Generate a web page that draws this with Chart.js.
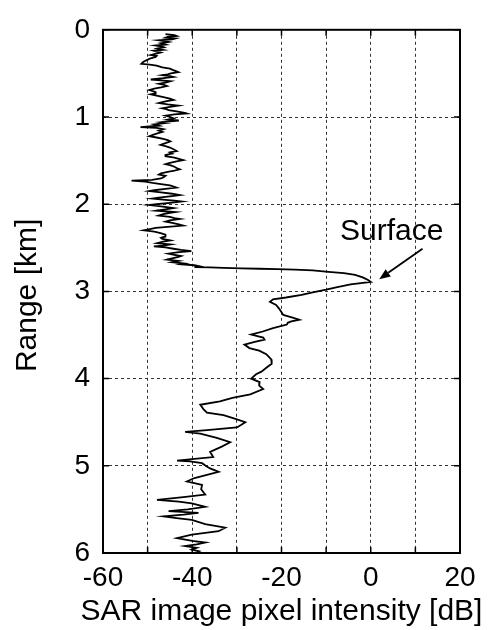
<!DOCTYPE html>
<html>
<head>
<meta charset="utf-8">
<script src="https://cdn.jsdelivr.net/npm/chart.js@4/dist/chart.umd.min.js"></script>
<style>
  html, body { margin: 0; padding: 0; background: #ffffff; }
  #wrap { width: 492px; height: 630px; }
</style>
</head>
<body>
<div id="wrap"><canvas id="c" width="492" height="630"></canvas></div>
<script>
// ---- Data ----
const rangeKm = [
  0.05,0.06,0.07,0.08,0.09,0.10,0.11,0.12,0.13,0.14,0.155,0.17,0.18,0.19,0.20,0.215,0.23,0.24,0.25,0.26,
  0.275,0.29,0.30,0.31,0.33,0.35,0.37,0.39,0.40,0.41,0.43,0.445,0.46,0.47,0.485,0.50,0.51,0.52,0.53,0.54,
  0.555,0.57,0.58,0.59,0.605,0.62,0.63,0.645,0.66,0.675,0.69,0.70,0.715,0.73,0.74,0.75,0.77,0.79,0.805,0.82,
  0.84,0.855,0.87,0.885,0.90,0.91,0.92,0.935,0.95,0.96,0.97,0.985,1.00,1.015,
  1.03,1.04,1.05,1.06,1.07,1.085,1.10,1.115,1.125,1.14,1.155,1.17,1.19,1.205,1.22,1.235,1.25,1.265,1.28,1.30,
  1.32,1.335,1.35,1.37,1.39,1.405,1.42,1.435,1.45,1.465,1.48,1.495,1.51,1.525,1.54,1.555,1.57,1.585,1.60,1.615,
  1.63,1.645,1.66,1.675,1.69,1.705,1.72,1.73,1.74,1.755,1.77,1.785,1.80,1.81,1.825,1.84,1.85,1.865,1.88,1.895,
  1.91,1.925,1.935,1.95,1.96,1.97,1.985,2.00,2.01,2.025,2.045,
  2.06,2.075,2.09,2.10,2.115,2.13,2.145,2.16,2.17,2.185,2.20,2.215,2.23,2.245,2.26,2.272,2.285,2.30,2.315,2.333,
  2.35,2.37,2.385,2.397,2.416,2.43,2.446,2.462,2.475,2.484,2.495,2.511,2.525,2.537,2.55,2.567,2.58,2.595,2.605,2.62,
  2.636,2.651,2.665,2.681,2.69,2.70,2.712,
  2.72,2.725,2.73,2.735,2.74,2.745,2.75,2.76,2.775,2.79,2.81,2.84,2.87,2.89,
  2.92,2.95,2.98,3.01,3.04,3.07,3.09,3.12,3.155,3.20,3.27,3.30,3.325,3.345,3.36,3.38,3.42,3.46,3.495,3.53,
  3.553,3.58,3.61,3.65,3.68,3.72,3.78,3.83,3.875,3.92,3.95,4.00,4.04,4.08,4.12,4.18,4.22,4.26,4.30,4.35,
  4.39,4.42,4.46,4.50,4.53,4.56,4.59,4.61,4.63,4.68,4.73,4.78,4.84,4.90,4.92,4.94,4.95,4.97,5.00,5.03,
  5.07,5.10,5.14,5.18,5.22,5.27,5.33,5.36,5.39,5.41,5.43,5.47,5.50,5.52,5.54,5.56,5.58,5.60,5.62,5.67,
  5.71,5.75,5.79,5.83,5.86,5.88,5.90,5.92,5.94,5.96,5.98,6.00
];
const intensityDb = [
  -46.0,-44.0,-43.5,-45.5,-46.0,-43.8,-44.5,-47.5,-46.2,-45.3,-47.0,-46.0,-48.2,-47.0,-46.4,-47.8,-46.5,-48.6,-47.9,-47.1,
  -48.3,-49.3,-48.0,-48.2,-49.5,-50.3,-51.0,-51.4,-49.5,-48.0,-46.7,-45.0,-44.4,-43.8,-43.1,-44.8,-45.5,-46.7,-45.0,-44.2,
  -46.5,-49.3,-47.0,-44.9,-46.0,-47.5,-46.5,-45.7,-47.0,-48.5,-49.6,-49.0,-48.2,-48.2,-49.3,-48.5,-46.7,-45.0,-44.2,-46.0,
  -47.5,-45.5,-43.1,-45.0,-46.7,-45.8,-45.3,-43.5,-42.0,-41.3,-44.0,-46.0,-44.9,-44.2,
  -45.5,-43.0,-44.9,-47.0,-46.0,-48.5,-47.5,-51.6,-48.0,-46.5,-47.5,-46.7,-48.0,-48.8,-49.6,-48.0,-46.5,-45.5,-44.9,-46.0,
  -47.1,-46.0,-45.0,-44.2,-43.5,-45.0,-44.5,-46.0,-46.0,-44.0,-43.0,-42.0,-43.5,-45.0,-46.0,-44.8,-44.0,-43.5,-42.8,-44.0,
  -45.5,-47.0,-47.5,-46.0,-46.4,-47.0,-49.0,-53.6,-50.5,-48.9,-47.0,-45.0,-44.0,-43.5,-46.0,-48.5,-49.6,-47.0,-44.5,-42.8,
  -45.0,-47.5,-48.9,-46.0,-44.0,-42.4,-45.0,-48.0,-49.6,-47.0,-44.2,
  -46.0,-48.0,-43.8,-45.0,-46.5,-47.5,-45.0,-44.0,-42.8,-45.0,-46.0,-44.5,-43.0,-42.0,-45.5,-48.2,-49.5,-50.9,-48.5,-47.1,
  -46.0,-46.0,-47.0,-46.7,-44.9,-46.5,-47.8,-44.9,-46.5,-48.6,-46.0,-44.2,-42.5,-40.2,-43.0,-45.3,-44.0,-42.5,-43.1,-44.5,
  -45.7,-43.1,-44.5,-41.7,-42.5,-39.5,-38.4,
  -39.5,-36.0,-33.0,-29.0,-25.0,-21.0,-17.0,-13.0,-9.5,-6.0,-3.5,-1.8,-0.6,0.0,
  -4.5,-7.5,-10.0,-13.0,-15.5,-19.0,-21.9,-22.6,-21.2,-20.5,-19.6,-17.5,-16.0,-17.8,-18.6,-18.8,-21.9,-24.2,-26.8,-24.1,
  -23.8,-26.0,-28.3,-27.2,-25.0,-23.4,-22.3,-22.2,-23.4,-24.5,-25.7,-26.8,-24.9,-25.0,-24.1,-27.0,-31.0,-33.8,-38.2,-37.5,
  -36.7,-33.0,-30.5,-28.1,-29.0,-30.0,-36.7,-41.6,-38.2,-34.5,-31.5,-33.4,-36.0,-35.3,-39.5,-43.4,-40.5,-37.8,-37.0,-36.0,
  -34.1,-36.5,-39.5,-41.2,-37.8,-38.0,-37.1,-42.0,-47.9,-43.0,-40.1,-37.1,-41.0,-45.3,-38.6,-42.0,-46.4,-43.5,-40.1,-37.1,
  -32.6,-34.1,-40.1,-43.4,-40.0,-37.1,-39.0,-41.6,-39.0,-40.1,-38.5,-39.4
];
const xTicksLabelled = [-60, -40, -20, 0, 20];
const yTicks = [0, 1, 2, 3, 4, 5, 6];
const xTitle = 'SAR image pixel intensity [dB]';
const yTitle = 'Range [km]';
const annotationText = 'Surface';
const annotationTextAt = [-6.9, 2.405];   // [dB, km]
const arrowFrom = [11.6, 2.51];           // [dB, km]
const arrowTo = [1.9, 2.86];              // [dB, km]

const FONT = '"Liberation Sans", Arial, Helvetica, sans-serif';

const points = rangeKm.map((r, i) => ({ x: intensityDb[i], y: r }));

const framePlugin = {
  id: 'frameTicksAnnot',
  afterDatasetsDraw(chart) {
    const { ctx, chartArea: a, scales } = chart;
    const xs = scales.x, ys = scales.y;
    ctx.save();
    ctx.strokeStyle = '#000';
    // inner tick marks
    ctx.lineWidth = 1.5;
    const tl = 6;
    xs.ticks.forEach(t => {
      const px = xs.getPixelForValue(t.value);
      ctx.beginPath();
      ctx.moveTo(px, a.top); ctx.lineTo(px, a.top + tl);
      ctx.moveTo(px, a.bottom); ctx.lineTo(px, a.bottom - tl);
      ctx.stroke();
    });
    ys.ticks.forEach(t => {
      const py = ys.getPixelForValue(t.value);
      ctx.beginPath();
      ctx.moveTo(a.left, py); ctx.lineTo(a.left + tl, py);
      ctx.moveTo(a.right, py); ctx.lineTo(a.right - tl, py);
      ctx.stroke();
    });
    // frame
    ctx.lineWidth = 2;
    ctx.strokeRect(a.left, a.top, a.right - a.left, a.bottom - a.top);
    ctx.fillStyle = '#000';
    // axis titles (drawn here so they are not squeezed to the plot width)
    ctx.font = '30px ' + FONT;
    ctx.textAlign = 'center';
    ctx.textBaseline = 'middle';
    ctx.fillText(xTitle, (a.left + a.right) / 2, xs.bottom - 18);
    ctx.save();
    ctx.translate(ys.left + 28, (a.top + a.bottom) / 2 + 4);
    ctx.rotate(-Math.PI / 2);
    ctx.fillText(yTitle, 0, 0);
    ctx.restore();
    // annotation text
    ctx.textAlign = 'left';
    ctx.textBaseline = 'alphabetic';
    ctx.fillText(annotationText, xs.getPixelForValue(annotationTextAt[0]), ys.getPixelForValue(annotationTextAt[1]));
    // arrow
    const x1 = xs.getPixelForValue(arrowFrom[0]), y1 = ys.getPixelForValue(arrowFrom[1]);
    const x2 = xs.getPixelForValue(arrowTo[0]), y2 = ys.getPixelForValue(arrowTo[1]);
    const ang = Math.atan2(y2 - y1, x2 - x1);
    const hl = 11, hw = 4.5;
    const bx = x2 - hl * Math.cos(ang), by = y2 - hl * Math.sin(ang);
    ctx.lineWidth = 1.8;
    ctx.beginPath();
    ctx.moveTo(x1, y1); ctx.lineTo(bx, by);
    ctx.stroke();
    ctx.beginPath();
    ctx.moveTo(x2, y2);
    ctx.lineTo(bx + hw * Math.sin(ang), by - hw * Math.cos(ang));
    ctx.lineTo(bx - hw * Math.sin(ang), by + hw * Math.cos(ang));
    ctx.closePath();
    ctx.fill();
    ctx.restore();
  }
};

new Chart(document.getElementById('c'), {
  type: 'line',
  data: {
    datasets: [{
      data: points,
      borderColor: '#000',
      borderWidth: 1.8,
      pointRadius: 0,
      tension: 0,
      fill: false
    }]
  },
  options: {
    indexAxis: 'y',
    responsive: false,
    animation: false,
    events: [],
    layout: { padding: { top: 26, right: 32, left: 0, bottom: 0 } },
    plugins: { legend: { display: false }, tooltip: { enabled: false }, title: { display: false } },
    scales: {
      x: {
        type: 'linear',
        position: 'bottom',
        min: -60, max: 20,
        ticks: {
          stepSize: 10,
          autoSkip: false,
          maxRotation: 0,
          padding: 8,
          color: '#000',
          font: { family: FONT, size: 28 },
          callback: (v) => xTicksLabelled.includes(v) ? String(v) : ''
        },
        grid: { color: '#333', lineWidth: 1, drawTicks: false },
        border: { display: false, dash: [3, 3] },
        title: { display: false, text: xTitle },
        afterFit: (s) => { s.height = 77; }
      },
      y: {
        type: 'linear',
        position: 'left',
        reverse: true,
        min: 0, max: 6,
        afterBuildTicks: (s) => { s.ticks = yTicks.map(v => ({ value: v })); },
        ticks: {
          autoSkip: false,
          padding: 13,
          color: '#000',
          font: { family: FONT, size: 28 }
        },
        grid: { color: '#333', lineWidth: 1, drawTicks: false },
        border: { display: false, dash: [3, 3] },
        title: { display: false, text: yTitle },
        afterFit: (s) => { s.width = 103; }
      }
    }
  },
  plugins: [framePlugin]
});
</script>
</body>
</html>
